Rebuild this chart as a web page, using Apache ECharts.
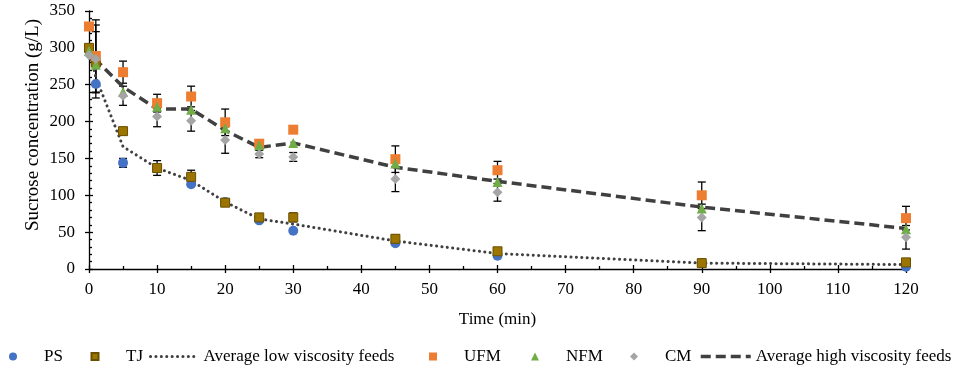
<!DOCTYPE html>
<html>
<head>
<meta charset="utf-8">
<script src="https://cdn.jsdelivr.net/npm/echarts@6/dist/echarts.min.js"></script>
<style>
  html, body { margin: 0; padding: 0; background: #fff; }
  #chart { width: 963px; height: 372px; }
</style>
</head>
<body>
<div id="chart"></div>
<script>
// Sampling times (min)
const times = [0, 1, 5, 10, 15, 20, 25, 30, 45, 60, 90, 120];

// Sucrose concentration (g/L) per feed
const ps  = [297, 251, 144, 137, 115, 91, 66, 52, 35, 18, 8, 3];
const tj  = [300, 280, 187, 137, 125, 90, 70, 70, 41, 24, 8, 9];
const ufm = [329, 289, 267, 225, 234, 199, 170, 189, 149, 134, 100, 69];
const nfm = [296, 277, 240, 220, 216, 191, 168, 171, 143, 118, 82, 54];
const cm  = [290, 285, 235, 207, 201, 175, 156, 152, 122, 104, 70, 43];

// Standard deviations (0 = no bar drawn)
const psErr  = [0, 0, 6, 0, 0, 0, 0, 0, 0, 0, 0, 0];
const tjErr  = [0, 0, 5, 10, 9, 5, 3, 6, 5, 3, 2, 2];
const ufmErr = [0, 49, 15, 12, 14, 18, 0, 0, 18, 12, 18, 16];
const nfmErr = [0, 45, 0, 0, 0, 0, 0, 0, 0, 0, 0, 0];
const cmErr  = [0, 46, 13, 14, 14, 18, 5, 6, 17, 12, 18, 16];

// Group averages
const lowAvg  = [298, 260, 166, 137, 120, 91, 68, 61, 38, 21, 8, 6];
const highAvg = [305, 284, 247, 217, 217, 188, 165, 171, 138, 119, 84, 55];

// Axis ticks
const xTicks = { min: 0, max: 120, interval: 10 };
const yTicks = { min: 0, max: 350, interval: 50 };

const FONT = '"Liberation Serif", "Times New Roman", serif';

const dotLine  = { color: '#404040', width: 3, type: [0.1, 5.3], cap: 'round' };
const dashLine = { color: '#404040', width: 3.5, type: [10, 5], cap: 'butt' };

function pairs(vals) { return times.map((t, i) => [t, vals[i]]); }
function errData(vals, errs) {
  const out = [];
  times.forEach((t, i) => { if (errs[i]) out.push([t, vals[i] - errs[i], vals[i] + errs[i]]); });
  return out;
}
function renderErr(params, api) {
  const x = api.value(0);
  const lo = api.coord([x, api.value(1)]);
  const hi = api.coord([x, api.value(2)]);
  const w = 4;
  const style = { stroke: '#000', lineWidth: 1.3 };
  return {
    type: 'group',
    children: [
      { type: 'line', shape: { x1: hi[0], y1: hi[1], x2: lo[0], y2: lo[1] }, style },
      { type: 'line', shape: { x1: hi[0] - w, y1: hi[1], x2: hi[0] + w, y2: hi[1] }, style },
      { type: 'line', shape: { x1: lo[0] - w, y1: lo[1], x2: lo[0] + w, y2: lo[1] }, style }
    ]
  };
}
function errSeries(vals, errs) {
  return {
    type: 'custom', renderItem: renderErr, data: errData(vals, errs),
    encode: { x: 0, y: [1, 2] }, z: 1, silent: true, clip: false
  };
}

const feeds = [
  { name: 'PS',  data: ps,  err: psErr,  symbol: 'circle',   size: 10, color: '#4472C4' },
  { name: 'TJ',  data: tj,  err: tjErr,  symbol: 'rect',     size: 9,  color: '#9C7400', border: '#6b5000' },
  { name: 'UFM', data: ufm, err: ufmErr, symbol: 'rect',     size: 10, color: '#ED7D31' },
  { name: 'NFM', data: nfm, err: nfmErr, symbol: 'triangle', size: 10, color: '#70AD47' },
  { name: 'CM',  data: cm,  err: cmErr,  symbol: 'diamond',  size: 10, color: '#A5A5A5' }
];

const series = [];
feeds.forEach(f => series.push(errSeries(f.data, f.err)));
function scatter(f) {
  return {
    name: f.name, type: 'scatter', data: pairs(f.data), symbol: f.symbol, symbolSize: f.size,
    symbolKeepAspect: true,
    itemStyle: { color: f.color, borderColor: f.border || f.color, borderWidth: f.border ? 1 : 0, opacity: 1 },
    z: 3, silent: true
  };
}
series.push(scatter(feeds[0]), scatter(feeds[1]));
series.push({
  name: 'Average low viscosity feeds', type: 'line', data: pairs(lowAvg), symbol: 'none', showSymbol: false,
  lineStyle: dotLine, itemStyle: { color: '#404040' }, z: 3, silent: true
});
series.push(scatter(feeds[2]), scatter(feeds[3]), scatter(feeds[4]));
series.push({
  name: 'Average high viscosity feeds', type: 'line', data: pairs(highAvg), symbol: 'none', showSymbol: false,
  lineStyle: dashLine, itemStyle: { color: '#404040' }, z: 3, silent: true
});

const legendText = { fontFamily: FONT, fontSize: 17, color: '#000' };

// Marker key: small icon, label pushed to the right of it
function markerKey(name, icon, center, size) {
  return {
    data: [{ name: name, icon: icon }], left: center - size / 2, top: 348, padding: 0,
    itemWidth: size, itemHeight: size, selectedMode: false, symbolKeepAspect: true,
    textStyle: Object.assign({ padding: [0, 0, 0, 31 - size / 2 - 5] }, legendText)
  };
}
// Line key: stroke only, no centre symbol
function lineKey(name, left, width, style) {
  return {
    data: [{ name: name, itemStyle: { opacity: 0 } }], left: left, top: 348, padding: 0,
    itemWidth: width, itemHeight: 8, selectedMode: false,
    lineStyle: style,
    textStyle: legendText
  };
}

const axisLabelStyle = { fontFamily: FONT, fontSize: 17, color: '#000' };

const option = {
  animation: false,
  backgroundColor: '#fff',
  grid: { left: 89, right: 57, top: 11, bottom: 103, containLabel: false },
  xAxis: [
    {
      type: 'value', position: 'bottom', min: xTicks.min, max: xTicks.max, interval: xTicks.interval,
      axisLine: { show: true, lineStyle: { color: '#000', width: 1.3 } },
      axisTick: { show: true, inside: false, length: 4, lineStyle: { color: '#000', width: 1.3 } },
      axisLabel: Object.assign({ margin: 12 }, axisLabelStyle),
      splitLine: { show: false },
      name: 'Time (min)', nameLocation: 'middle', nameGap: 42,
      nameTextStyle: { fontFamily: FONT, fontSize: 17, color: '#000' }
    },
    {
      type: 'value', position: 'bottom', min: xTicks.min, max: xTicks.max, interval: xTicks.interval,
      axisLine: { show: false },
      axisTick: { show: true, inside: true, length: 4, lineStyle: { color: '#000', width: 1.3 } },
      minorTick: { show: true, splitNumber: 2, length: 3, lineStyle: { color: '#000', width: 1.3 } },
      axisLabel: { show: false }, splitLine: { show: false }
    }
  ],
  yAxis: [
    {
      type: 'value', position: 'left', min: yTicks.min, max: yTicks.max, interval: yTicks.interval,
      axisLine: { show: true, lineStyle: { color: '#000', width: 1.3 } },
      axisTick: { show: true, inside: false, length: 4, lineStyle: { color: '#000', width: 1.3 } },
      axisLabel: Object.assign({ margin: 14 }, axisLabelStyle),
      splitLine: { show: false }
    },
    {
      type: 'value', position: 'left', min: yTicks.min, max: yTicks.max, interval: yTicks.interval,
      axisLine: { show: false },
      axisTick: { show: true, inside: true, length: 4, lineStyle: { color: '#000', width: 1.3 } },
      minorTick: { show: true, splitNumber: 5, length: 3, lineStyle: { color: '#000', width: 1.3 } },
      axisLabel: { show: false }, splitLine: { show: false }
    }
  ],
  graphic: [{
    type: 'text', x: 33, y: 125, rotation: Math.PI / 2,
    style: { text: 'Sucrose concentration (g/L)', font: '19px ' + FONT, fill: '#000', align: 'center', verticalAlign: 'middle' }
  }],
  legend: [
    markerKey('PS', 'circle', 13, 8),
    markerKey('TJ', 'rect', 94, 7),
    lineKey('Average low viscosity feeds', 149, 48, dotLine),
    markerKey('UFM', 'rect', 433, 8),
    markerKey('NFM', 'triangle', 535, 8),
    markerKey('CM', 'diamond', 634, 8),
    lineKey('Average high viscosity feeds', 699, 50, dashLine)
  ],
  series: series
};

const chart = echarts.init(document.getElementById('chart'), null, { renderer: 'canvas' });
chart.setOption(option);
</script>
</body>
</html>
